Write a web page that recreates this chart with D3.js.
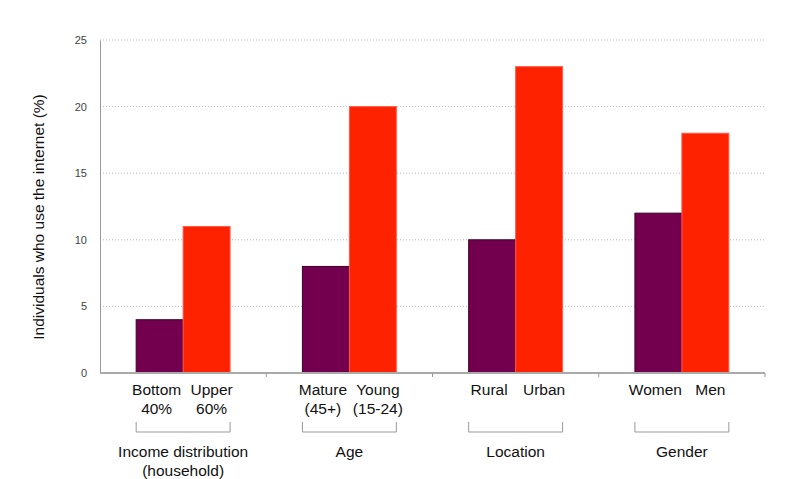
<!DOCTYPE html>
<html>
<head>
<meta charset="utf-8">
<script src="https://cdn.jsdelivr.net/npm/d3@7"></script>
<style>
  body { margin: 0; background: #fff; }
  svg { font-family: "Liberation Sans", Arial, sans-serif; }
</style>
</head>
<body>
<div id="chart"></div>
<script>
// Data
const groups = ["Income distribution\n(household)", "Age", "Location", "Gender"];
const lowLabels = ["Bottom\n40%", "Mature\n(45+)", "Rural", "Women"];
const highLabels = ["Upper\n60%", "Young\n(15-24)", "Urban", "Men"];
const lowValues = [4, 8, 10, 12];
const highValues = [11, 20, 23, 18];
const yTicks = [0, 5, 10, 15, 20, 25];

const width = 800, height = 479;
const margin = {top: 40, right: 35, bottom: 106, left: 100};
const innerH = height - margin.top - margin.bottom;

const svg = d3.select("#chart").append("svg")
    .attr("width", width)
    .attr("height", height);

// Scales
const xScale = d3.scaleBand()
    .domain(groups)
    .range([margin.left, width - margin.right])
    .padding(0);

const subScale = d3.scaleBand()
    .domain(["low", "high"])
    .range([0, xScale.bandwidth()])
    .paddingInner(0)
    .paddingOuter(0.77);

const yScale = d3.scaleLinear()
    .domain([0, 25])
    .range([margin.top + innerH, margin.top]);

// Dotted grid lines
svg.append("g")
    .selectAll("line")
    .data(yTicks.filter((d) => d > 0))
    .join("line")
        .attr("x1", margin.left)
        .attr("x2", width - margin.right)
        .attr("y1", (d) => yScale(d))
        .attr("y2", (d) => yScale(d))
        .attr("stroke", "#bbb")
        .attr("stroke-width", 1)
        .attr("stroke-dasharray", "1,2");

// Y axis
const yAxis = svg.append("g")
    .attr("transform", `translate(${margin.left},0)`)
    .call(d3.axisLeft(yScale).tickValues(yTicks).tickSize(0).tickPadding(13));
yAxis.select(".domain").attr("stroke", "#999");
yAxis.selectAll("text")
    .style("font-size", "11px")
    .attr("fill", "#444");

// Bars
const rows = groups.map((g, i) => [
    { group: g, key: "low", value: lowValues[i], label: lowLabels[i] },
    { group: g, key: "high", value: highValues[i], label: highLabels[i] }
]).flat();

svg.append("g")
    .selectAll("rect")
    .data(rows)
    .join("rect")
        .attr("x", (d) => xScale(d.group) + subScale(d.key))
        .attr("y", (d) => yScale(d.value))
        .attr("width", subScale.bandwidth())
        .attr("height", (d) => yScale(0) - yScale(d.value))
        .attr("fill", (d) => d.key === "low" ? "#72004F" : "#FF2200")
        .attr("stroke", (d) => d.key === "low" ? "#3a0028" : "#ff5a4a")
        .attr("stroke-width", 1);

// X axis line with ticks at group boundaries
const xAxis = svg.append("g")
    .attr("transform", `translate(0,${yScale(0)})`);
xAxis.append("line")
    .attr("x1", margin.left)
    .attr("x2", width - margin.right)
    .attr("stroke", "#aaa")
    .attr("stroke-width", 2);
xAxis.selectAll("tick")
    .data(groups)
    .join("line")
        .attr("x1", (d) => xScale(d) + xScale.bandwidth())
        .attr("x2", (d) => xScale(d) + xScale.bandwidth())
        .attr("y1", 0)
        .attr("y2", 4)
        .attr("stroke", "#999");

// Category labels under each bar
svg.append("g")
    .selectAll("text")
    .data(rows)
    .join("text")
        .attr("x", (d) => xScale(d.group) + subScale(d.key) + subScale.bandwidth() / 2 + (d.key === "low" ? -3 : 5))
        .attr("y", yScale(0) + 22)
        .style("font-size", "15.5px")
        .style("text-anchor", "middle")
        .attr("fill", "#111")
        .each(function (d) {
            const lines = d.label.split("\n");
            d3.select(this).selectAll("tspan")
                .data(lines)
                .join("tspan")
                    .attr("x", d3.select(this).attr("x"))
                    .attr("dy", (l, i) => i === 0 ? 0 : 19)
                    .text((l) => l);
        });

// Brackets under each group
const bracketTop = yScale(0) + 49;
const bracketBottom = yScale(0) + 59;
svg.append("g")
    .selectAll("path")
    .data(groups)
    .join("path")
        .attr("d", (d) => {
            const x0 = xScale(d) + subScale("low");
            const x1 = xScale(d) + subScale("high") + subScale.bandwidth();
            return `M${x0},${bracketTop}V${bracketBottom}H${x1}V${bracketTop}`;
        })
        .attr("fill", "none")
        .attr("stroke", "#999")
        .attr("stroke-width", 1);

// Group labels
svg.append("g")
    .selectAll("text")
    .data(groups)
    .join("text")
        .attr("x", (d) => xScale(d) + xScale.bandwidth() / 2)
        .attr("y", yScale(0) + 84)
        .style("font-size", "15.5px")
        .style("text-anchor", "middle")
        .attr("fill", "#111")
        .each(function (d) {
            const x = d3.select(this).attr("x");
            d3.select(this).selectAll("tspan")
                .data(d.split("\n"))
                .join("tspan")
                    .attr("x", x)
                    .attr("dy", (l, i) => i === 0 ? 0 : 19)
                    .text((l) => l);
        });

// Y axis title
svg.append("text")
    .text("Individuals who use the internet (%)")
    .attr("transform", `translate(44,217) rotate(-90)`)
    .style("text-anchor", "middle")
    .style("font-size", "15.5px")
    .attr("fill", "#111");
</script>
</body>
</html>
